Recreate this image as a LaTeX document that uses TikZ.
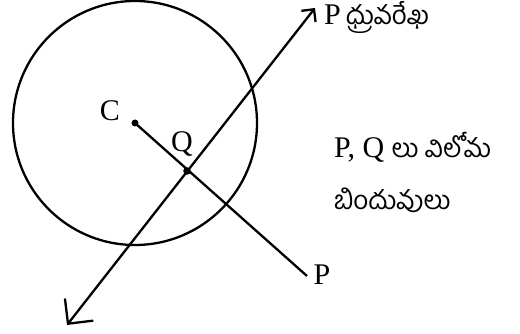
\documentclass[tikz,border=0pt]{standalone}
\usepackage{fontspec}
\setmainfont{Liberation Serif}
\newfontfamily\telugu[Script=Telugu]{Hind Guntur}
\newcommand{\tel}[1]{{\fontsize{26}{30}\selectfont\telugu #1}}
\usetikzlibrary{arrows.meta}

\begin{document}
\begin{tikzpicture}[x=1pt,y=-1pt,line width=2.3pt,
  lbl/.style={font=\fontsize{30}{34}\selectfont, inner sep=0pt}]
  \useasboundingbox (0,0) rectangle (520,334);

  % centre and radius of the circle
  \def\Cx{135}   \def\Cy{123}
  \def\R{122}

  \coordinate (C) at (\Cx,\Cy);
  \coordinate (Q) at (187,171);
  \coordinate (Pend) at (307,276);
  \coordinate (top) at (315,8);
  \coordinate (bot) at (67,325);

  \draw (C) circle[radius=\R pt];

  % C -- P through Q, and the polar line through Q
  \draw (C) -- (Pend);
  \draw[{Straight Barb[sharp,length=18pt,width=36pt]}-{Straight Barb[sharp,length=9pt,width=18pt]}] (bot) -- (top);

  \fill (C) circle (3.5pt);
  \fill (Q) circle (3.8pt);

  % labels
  \node[lbl] (Clbl) at (110,111) {C};
  \node[lbl] (Qlbl) at (182,144) {Q};
  \node[lbl] (Plbl) at (322,275) {P};
  \node[lbl, anchor=base west] (polar) at (323,25) {P\,\tel{ధ్రువరేఖ}};
  \node[lbl, anchor=base west] (inv1) at (333,158) {P, Q \tel{లు విలోమ}};
  \node[lbl, anchor=base west] (inv2) at (333,210) {\tel{బిందువులు}};
\end{tikzpicture}
\end{document}
